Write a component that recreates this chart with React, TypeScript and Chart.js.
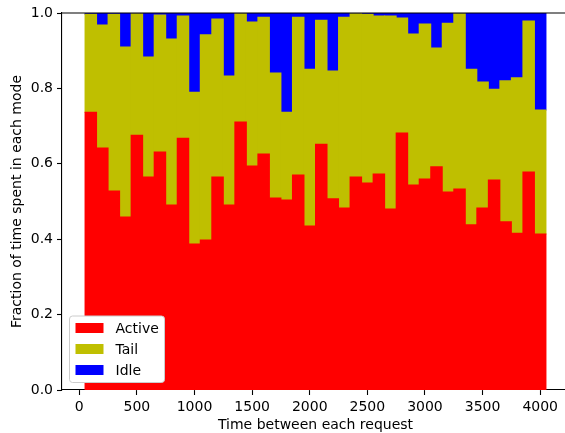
import { useEffect, useRef } from 'react';
import { Chart, registerables } from 'chart.js';

Chart.register(...registerables);

const binCenters = [
  100, 200, 300, 400, 500, 600, 700, 800, 900, 1000,
  1100, 1200, 1300, 1400, 1500, 1600, 1700, 1800, 1900, 2000,
  2100, 2200, 2300, 2400, 2500, 2600, 2700, 2800, 2900, 3000,
  3100, 3200, 3300, 3400, 3500, 3600, 3700, 3800, 3900, 4000,
];

const active = [
  0.737, 0.642, 0.528, 0.459, 0.676, 0.565, 0.631, 0.491, 0.668, 0.387,
  0.398, 0.565, 0.491, 0.711, 0.594, 0.626, 0.509, 0.504, 0.570, 0.435,
  0.652, 0.507, 0.483, 0.565, 0.549, 0.573, 0.480, 0.682, 0.544, 0.560,
  0.592, 0.525, 0.533, 0.438, 0.483, 0.557, 0.446, 0.416, 0.578, 0.414,
];

const tail = [
  0.260, 0.326, 0.469, 0.451, 0.322, 0.318, 0.364, 0.440, 0.324, 0.403,
  0.544, 0.419, 0.342, 0.287, 0.382, 0.363, 0.332, 0.233, 0.419, 0.416,
  0.329, 0.339, 0.506, 0.433, 0.448, 0.419, 0.512, 0.305, 0.400, 0.411,
  0.315, 0.448, 0.465, 0.413, 0.334, 0.241, 0.374, 0.412, 0.401, 0.329,
];

const idle = [
  0.003, 0.032, 0.003, 0.090, 0.002, 0.117, 0.005, 0.069, 0.008, 0.210,
  0.058, 0.016, 0.167, 0.002, 0.024, 0.011, 0.159, 0.263, 0.011, 0.149,
  0.019, 0.154, 0.011, 0.002, 0.003, 0.008, 0.008, 0.013, 0.056, 0.029,
  0.093, 0.027, 0.002, 0.149, 0.183, 0.202, 0.180, 0.172, 0.021, 0.257,
];

const seriesNames = ['Active', 'Tail', 'Idle'];
const seriesColors = ['#ff0000', '#bfbf00', '#0000ff'];

const xTicks = [0, 500, 1000, 1500, 2000, 2500, 3000, 3500, 4000];
const yTicks = [0, 0.2, 0.4, 0.6, 0.8, 1.0];

const FONT = 'DejaVu Sans';

const legendPlugin = {
  id: 'mplLegend',
  afterDraw(chart: any) {
    const ctx = chart.ctx;
    const area = chart.chartArea;
    const left = area.left + 7.5;
    const top = 316;
    const w = 95;
    const h = 66.5;
    const r = 3;
    ctx.save();
    ctx.beginPath();
    ctx.moveTo(left + r, top);
    ctx.lineTo(left + w - r, top);
    ctx.arcTo(left + w, top, left + w, top + r, r);
    ctx.lineTo(left + w, top + h - r);
    ctx.arcTo(left + w, top + h, left + w - r, top + h, r);
    ctx.lineTo(left + r, top + h);
    ctx.arcTo(left, top + h, left, top + h - r, r);
    ctx.lineTo(left, top + r);
    ctx.arcTo(left, top, left + r, top, r);
    ctx.closePath();
    ctx.fillStyle = '#ffffff';
    ctx.fill();
    ctx.strokeStyle = '#cccccc';
    ctx.lineWidth = 1;
    ctx.stroke();
    chart.data.datasets.forEach((ds: any, i: number) => {
      const cy = 328 + i * 21;
      ctx.fillStyle = ds.backgroundColor;
      ctx.fillRect(left + 6, cy - 5, 28, 10);
      ctx.fillStyle = '#000';
      ctx.font = `14px "${FONT}"`;
      ctx.textBaseline = 'middle';
      ctx.textAlign = 'left';
      ctx.fillText(ds.label, left + 46, cy + 1);
    });
    // top spine
    ctx.beginPath();
    ctx.strokeStyle = '#000';
    ctx.lineWidth = 1.1;
    ctx.moveTo(area.left, area.top);
    ctx.lineTo(area.right, area.top);
    ctx.stroke();
    ctx.restore();
  },
};

export default function App() {
  const ref = useRef<HTMLCanvasElement>(null);
  useEffect(() => {
    if (!ref.current) return;
    const datasets = [active, tail, idle].map((vals, i) => ({
      label: seriesNames[i],
      data: vals.map((v, j) => ({ x: binCenters[j], y: v })),
      backgroundColor: seriesColors[i],
      borderWidth: 0,
      inflateAmount: 0.5,
      barPercentage: 1.0,
      categoryPercentage: 1.0,
    }));
    const chart = new Chart(ref.current, {
      type: 'bar',
      data: { datasets },
      plugins: [legendPlugin],
      options: {
        animation: false,
        responsive: false,
        maintainAspectRatio: false,
        layout: { padding: { top: 13, right: 6, left: 0, bottom: 0 } },
        plugins: { legend: { display: false }, tooltip: { enabled: false } },
        scales: {
          x: {
            type: 'linear',
            stacked: true,
            offset: false,
            min: -150,
            max: 4250,
            afterBuildTicks: (s: any) => {
              s.ticks = xTicks.map((v) => ({ value: v }));
            },
            afterFit: (s: any) => {
              s.height = 43;
            },
            ticks: {
              color: '#000',
              padding: 4,
              font: { family: FONT, size: 14 },
              maxRotation: 0,
              autoSkip: false,
              callback: (v: any) => String(v),
            },
            grid: {
              display: true,
              drawOnChartArea: false,
              drawTicks: true,
              tickLength: 5,
              tickWidth: 1.1,
              tickColor: '#000',
              offset: false,
            },
            border: { display: true, color: '#000', width: 1.1 },
            title: {
              display: true,
              text: 'Time between each request',
              color: '#000',
              font: { family: FONT, size: 14, lineHeight: 1.05 },
              padding: { top: 0, bottom: 0 },
            },
          },
          y: {
            type: 'linear',
            stacked: true,
            min: 0,
            max: 1,
            afterBuildTicks: (s: any) => {
              s.ticks = yTicks.map((v) => ({ value: v }));
            },
            afterFit: (s: any) => {
              s.width = 62;
            },
            ticks: {
              color: '#000',
              padding: 4,
              font: { family: FONT, size: 14 },
              callback: (v: any) => Number(v).toFixed(1),
            },
            grid: {
              display: true,
              drawOnChartArea: false,
              drawTicks: true,
              tickLength: 5,
              tickWidth: 1.1,
              tickColor: '#000',
            },
            border: { display: true, color: '#000', width: 1.1 },
            title: {
              display: true,
              text: 'Fraction of time spent in each mode',
              color: '#000',
              font: { family: FONT, size: 14 },
              padding: { top: 9, bottom: 0 },
            },
          },
        },
      },
    });
    return () => chart.destroy();
  }, []);
  return (
    <div
      style={{
        position: 'fixed',
        left: 0,
        top: 0,
        width: 565,
        height: 433,
        overflow: 'hidden',
        background: '#fff',
      }}
    >
      <canvas ref={ref} width={575} height={433} style={{ display: 'block' }} />
    </div>
  );
}
